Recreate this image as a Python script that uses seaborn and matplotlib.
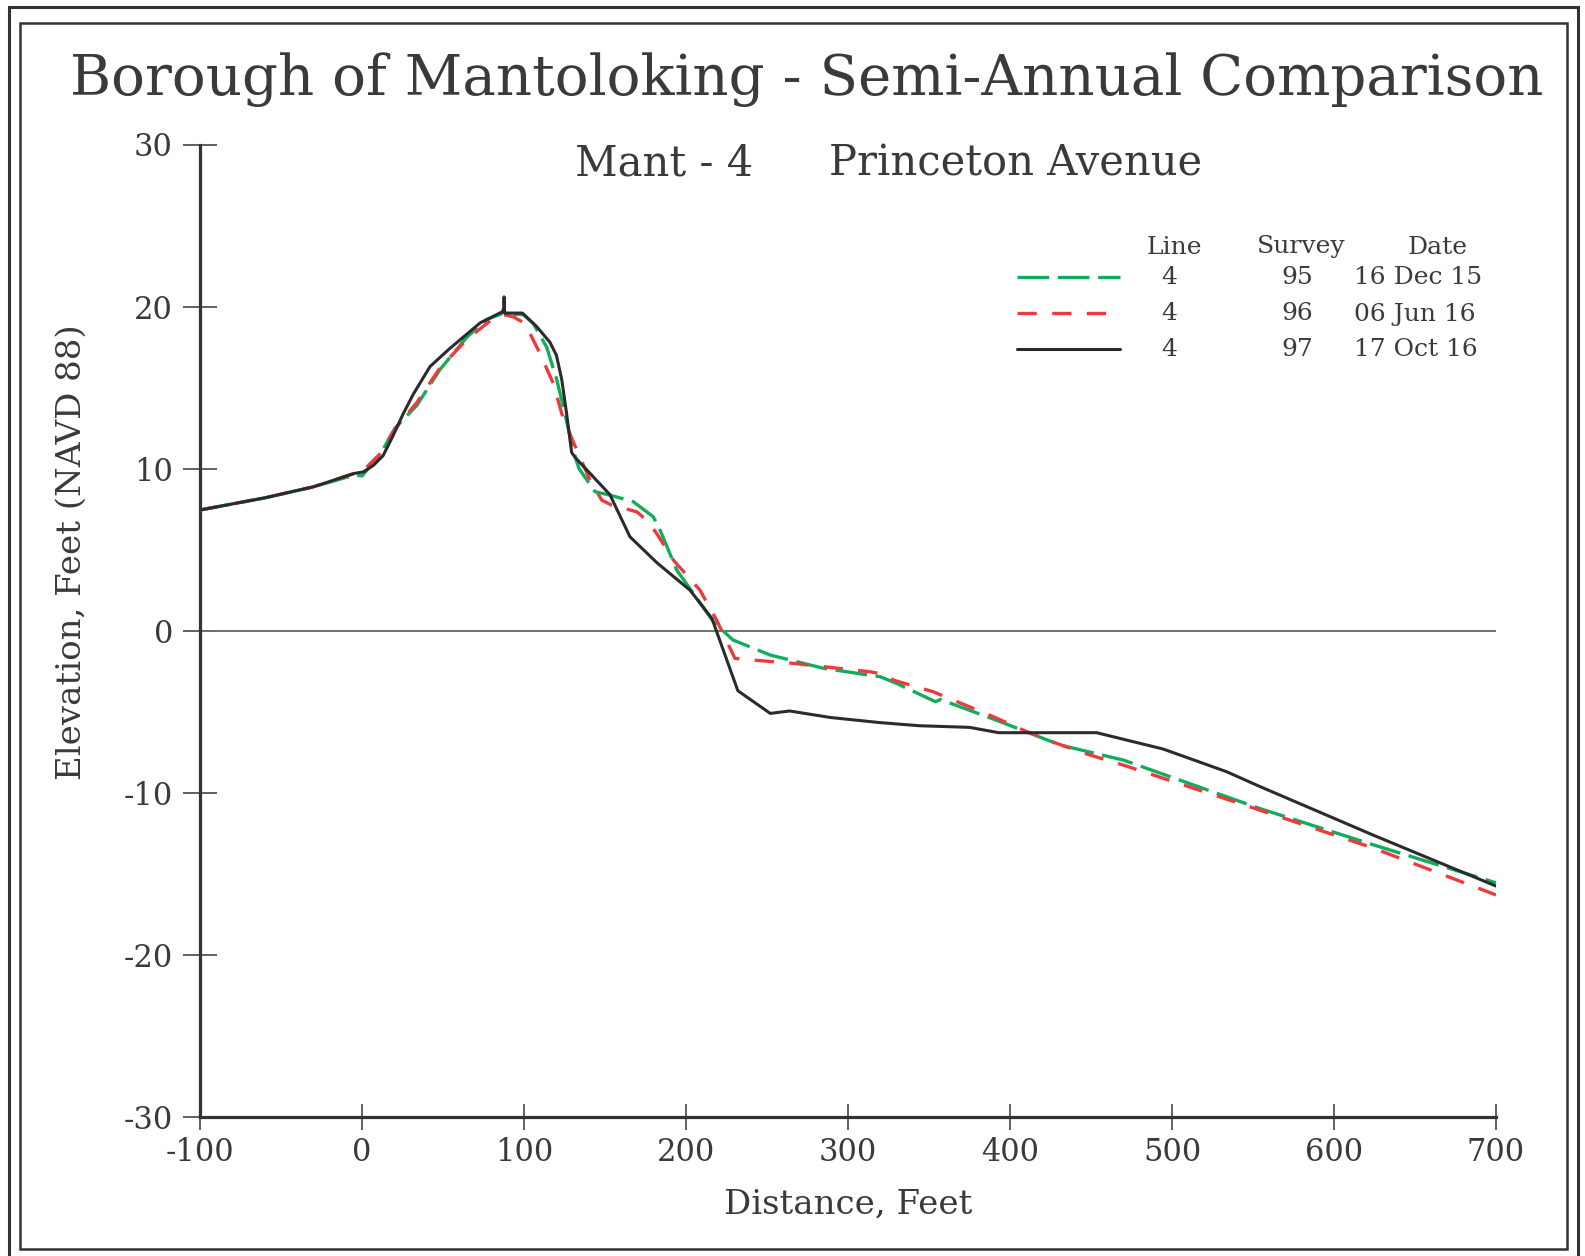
import numpy as np
import pandas as pd
import seaborn as sns
import matplotlib
matplotlib.use("Agg")
import matplotlib.pyplot as plt
from matplotlib.patches import Rectangle
from matplotlib.lines import Line2D

# ---------------- data ----------------
x_97 = [-100, -60, -30, -5, 0.8, 7, 13, 19, 25.5, 31.7, 42, 54, 73, 85, 87.5, 87.7, 88.0,
        99, 108, 116, 120, 123.3, 126.3, 129.4, 131.5, 153, 165.4, 182, 202.5, 216, 232,
        252, 264, 289, 320, 344, 375, 393, 453.5, 494.6, 533.8, 554, 624, 700]
y_97 = [7.45, 8.2, 8.88, 9.7, 9.8, 10.2, 10.8, 12.0, 13.4, 14.6, 16.3, 17.4, 19.0, 19.6, 19.7, 20.6, 19.6,
        19.6, 18.75, 17.8, 17.0, 15.5, 13.4, 11.0, 10.7, 8.4, 5.8, 4.2, 2.5, 0.76, -3.7,
        -5.1, -4.95, -5.35, -5.67, -5.86, -5.96, -6.29, -6.29, -7.3, -8.7, -9.6, -12.6, -15.75]

x_95 = [-100, -60, -30, -5, 0, 11, 20.4, 33.8, 48, 64.6, 77, 86, 87.5, 88.5, 99.6, 105.7, 114,
        120.2, 124.3, 128.4, 132, 134, 143.8, 153, 167.5, 179.8, 184, 194.3, 204.5, 216.9, 229,
        252, 285, 320, 330, 354, 357, 394, 431, 470, 554, 624, 700]
y_95 = [7.45, 8.2, 8.88, 9.6, 9.55, 10.84, 12.5, 13.9, 16.1, 18.1, 19.2, 19.55, 19.9, 19.55, 19.5, 18.96, 17.5,
        15.5, 13.8, 12.0, 10.6, 10.0, 8.58, 8.37, 7.96, 7.03, 6.21, 3.74, 2.31, 0.56, -0.57,
        -1.5, -2.32, -2.84, -3.25, -4.38, -4.24, -5.61, -7.05, -7.98, -10.96, -13.2, -15.55]

x_96 = [-100, -60, -30, -5, 0, 11, 20, 34, 48, 65, 81, 89.3, 93.4, 100.6, 109.9, 118.1, 123.3,
        130.2, 140.7, 148, 154.1, 169.6, 175.7, 181.9, 192.2, 208.6, 218.9, 230.2, 241.5, 266,
        313.6, 323.9, 327.8, 352.5, 389.6, 410.5, 428.8, 449.4, 470, 548, 624, 700]
y_96 = [7.45, 8.2, 8.88, 9.7, 9.8, 10.9, 12.4, 14.1, 16.2, 18.0, 19.27, 19.47, 19.37, 18.96, 17.1, 15.26, 13.4,
        11.7, 9.3, 8.06, 7.75, 7.34, 6.83, 6.0, 4.36, 2.51, 0.66, -1.7, -1.81, -2.01,
        -2.53, -2.73, -3.04, -3.76, -5.3, -6.23, -6.95, -7.67, -8.29, -10.86, -13.4, -16.3]

legend_lines = ["4", "4", "4"]
legend_surveys = ["95", "96", "97"]
legend_dates = ["16 Dec 15", "06 Jun 16", "17 Oct 16"]

x_ticks = [-100, 0, 100, 200, 300, 400, 500, 600, 700]
y_ticks = [-30, -20, -10, 0, 10, 20, 30]

# ---------------- style ----------------
sns.set_theme(style="white")
plt.rcParams['font.family'] = ['DejaVu Serif']

W, H = 1585, 1256
fig = plt.figure(figsize=(W / 100, H / 100), dpi=100)
fig.patch.set_facecolor("white")

def fx(px):
    return px / W

def fy(py):
    return 1 - py / H

ax = fig.add_axes([fx(200), fy(1117), (1496 - 200) / W, (1117 - 144.5) / H])
ax.set_facecolor("white")

TXT = "#3a3a3a"
GREEN = "#12ad5c"
RED = "#ec3b3e"
BLACK = "#2b2b2b"

green_dash = (9.5, 2.6)
red_dash = (5.8, 4.6)

df95 = pd.DataFrame({"x": x_95, "y": y_95})
df96 = pd.DataFrame({"x": x_96, "y": y_96})
df97 = pd.DataFrame({"x": x_97, "y": y_97})

# zero line
ax.axhline(0, color="#707070", lw=1.4, zorder=1)

sns.lineplot(data=df95, x="x", y="y", ax=ax, sort=False, estimator=None,
             color=GREEN, lw=2.4, zorder=3)
ax.lines[-1].set_dashes(green_dash)
sns.lineplot(data=df96, x="x", y="y", ax=ax, sort=False, estimator=None,
             color=RED, lw=2.4, zorder=4)
ax.lines[-1].set_dashes(red_dash)
sns.lineplot(data=df97, x="x", y="y", ax=ax, sort=False, estimator=None,
             color=BLACK, lw=2.2, zorder=5)

ax.set_xlim(-100, 700)
ax.set_ylim(-30, 30)
ax.set_xticks(x_ticks)
ax.set_yticks(y_ticks)
ax.set_xticklabels([str(v) for v in x_ticks])
ax.set_yticklabels([str(v) for v in y_ticks])

for s in ["top", "right"]:
    ax.spines[s].set_visible(False)
for s in ["left", "bottom"]:
    ax.spines[s].set_visible(True)
    ax.spines[s].set_color("#333333")
    ax.spines[s].set_linewidth(2.3)

ax.tick_params(axis="y", direction="inout", length=25, width=1.3, color="#555555",
               pad=7, labelsize=22, labelcolor=TXT, left=True)
ax.tick_params(axis="x", direction="inout", length=19, width=1.3, color="#555555",
               pad=5, labelsize=22, labelcolor=TXT, bottom=True)
ax.grid(False)

ax.set_xlabel("Distance, Feet", fontsize=24.5, color=TXT, va="center")
ax.xaxis.set_label_coords(0.5, -0.0905)
ax.set_ylabel("Elevation, Feet (NAVD 88)", fontsize=24.5, color=TXT, va="center")
ax.yaxis.set_label_coords(-0.099, 0.581)

# titles
fig.text(fx(807), fy(80), "Borough of Mantoloking - Semi-Annual Comparison",
         ha="center", va="center", fontsize=40.5, color=TXT)
fig.text(fx(664), fy(163), "Mant - 4", ha="center", va="center", fontsize=30, color=TXT)
fig.text(fx(1016), fy(163), "Princeton Avenue", ha="center", va="center", fontsize=30, color=TXT)

# legend (custom table)
LFS = 18
fig.text(fx(1174), fy(247), "Line", ha="center", va="center", fontsize=LFS, color=TXT)
fig.text(fx(1301), fy(247), "Survey", ha="center", va="center", fontsize=LFS, color=TXT)
fig.text(fx(1438), fy(247), "Date", ha="center", va="center", fontsize=LFS, color=TXT)
row_y = [278, 314, 350]
styles = [(GREEN, green_dash, 2.4), (RED, red_dash, 2.4), (BLACK, None, 2.2)]
for ry, ln, sv, dt, (c, d, lw) in zip(row_y, legend_lines, legend_surveys, legend_dates, styles):
    l = Line2D([fx(1017), fx(1120)], [fy(ry - 1), fy(ry - 1)], transform=fig.transFigure,
               color=c, lw=lw)
    if d is not None:
        l.set_dashes(d)
    fig.add_artist(l)
    fig.text(fx(1169), fy(ry), ln, ha="center", va="center", fontsize=LFS, color=TXT)
    fig.text(fx(1297), fy(ry), sv, ha="center", va="center", fontsize=LFS, color=TXT)
    fig.text(fx(1354), fy(ry), dt, ha="left", va="center", fontsize=LFS, color=TXT)

# frames
fig.add_artist(Rectangle((fx(9), fy(1262)), fx(1578) - fx(9), fy(7) - fy(1262),
                         transform=fig.transFigure, fill=False, ec="#333333", lw=2.2))
fig.add_artist(Rectangle((fx(20), fy(1249)), fx(1567) - fx(20), fy(23) - fy(1249),
                         transform=fig.transFigure, fill=False, ec="#333333", lw=1.8))

fig.savefig("out.png", dpi=100, facecolor="white")
